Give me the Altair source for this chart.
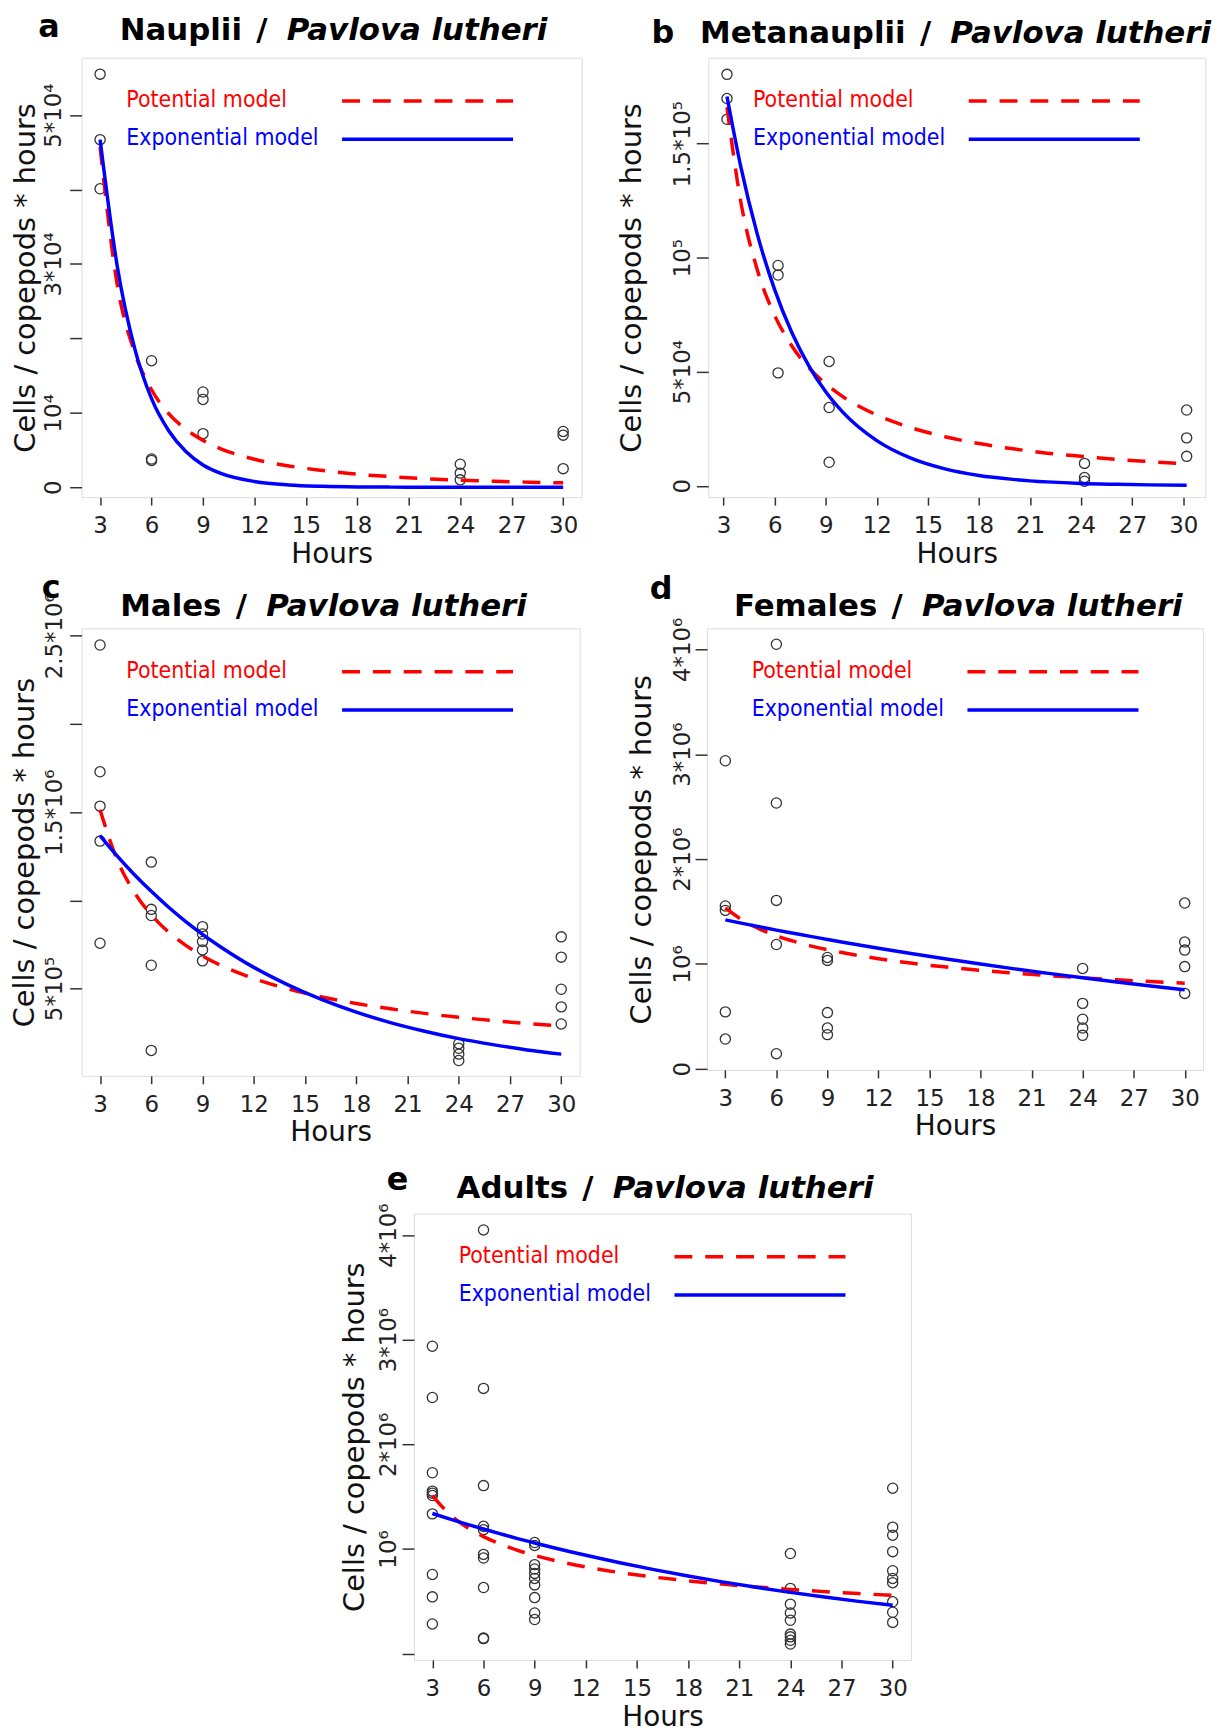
import altair as alt
import pandas as pd

FONT = "DejaVu Sans"
LEG_FONT = "DejaVu Sans Condensed, Liberation Sans Narrow, DejaVu Sans"

HOUR_TICKS = [3, 6, 9, 12, 15, 18, 21, 24, 27, 30]
CURVE_HOURS = [3, 4, 5, 6, 7, 8, 9, 10, 12, 14, 16, 18, 20, 22, 24, 26, 28, 30]
CURVE_HOURS_B = [3.2, 4, 5, 6, 7, 8, 9, 10, 12, 14, 16, 18, 20, 22, 24, 26, 28, 30.2]
LEGEND_LABELS = ["Potential model", "Exponential model"]
Y_TITLE = "Cells / copepods * hours"
X_TITLE = "Hours"
SPECIES = "Pavlova lutheri"

# ---- a: Nauplii
A_HOURS = [3, 3, 3, 6, 6, 6, 9, 9, 9, 24, 24, 24, 30, 30, 30]
A_VALUES = [55500, 46700, 40100, 17000, 3800, 3600, 12800, 11800, 7200,
            3100, 1900, 1000, 7500, 7000, 2500]
A_POT = [45700, 27200, 18200, 13100, 9900, 7800, 6300, 5200, 3770, 2860, 2250,
         1750, 1420, 1150, 950, 800, 680, 600]
A_EXP = [46700, 29700, 18800, 11900, 7600, 4800, 3000, 1900, 780, 310, 130,
         50, 20, 10, 0, 0, 0, 0]
A_YTICKS = [0, 10000, 20000, 30000, 40000, 50000]
A_YLABELS = ["0", "10⁴", "", "3*10⁴", "", "5*10⁴"]

# ---- b: Metanauplii
B_HOURS = [3.2, 3.2, 3.2, 6.2, 6.2, 6.2, 9.2, 9.2, 9.2, 24.2, 24.2, 24.2, 30.2, 30.2, 30.2]
B_VALUES = [180400, 169800, 160700, 96600, 92400, 49500, 54500, 34300, 10300,
            9800, 3600, 2000, 33200, 21000, 12900]
B_POT = [166000, 125000, 94200, 74700, 61400, 51800, 44700, 39100, 31000, 25500,
         21500, 18500, 16200, 14300, 12900, 11600, 10600, 9600]
B_EXP = [170700, 140300, 109800, 86000, 67300, 52700, 41200, 32300, 19800, 12100,
         7400, 4500, 2800, 1700, 1000, 640, 390, 230]
B_YTICKS = [0, 50000, 100000, 150000]
B_YLABELS = ["0", "5*10⁴", "10⁵", "1.5*10⁵"]

# ---- c: Males
C_HOURS = [3, 3, 3, 3, 3, 6, 6, 6, 6, 6, 9, 9, 9, 9, 9, 24, 24, 24, 24, 30, 30, 30, 30, 30]
C_VALUES = [2448000, 1729000, 1534000, 1336000, 757000,
            1217000, 949000, 914000, 632000, 149000,
            851000, 809000, 767000, 719000, 657000,
            187000, 161000, 128000, 92000,
            793000, 678000, 496000, 396000, 299000]
C_POT = [1514000, 1230000, 1047000, 918000, 821000, 746000, 685000, 635000, 557000,
         498000, 452000, 415000, 385000, 359000, 337000, 318000, 302000, 287000]
C_EXP = [1367000, 1252000, 1147000, 1051000, 962000, 881000, 807000, 740000, 620000,
         521000, 437000, 366000, 307000, 258000, 216000, 182000, 152000, 128000]
C_YTICKS = [500000, 1000000, 1500000, 2000000, 2500000]
C_YLABELS = ["5*10⁵", "", "1.5*10⁶", "", "2.5*10⁶"]

# ---- d: Females
D_HOURS = [3, 3, 3, 3, 3, 6, 6, 6, 6, 6, 9, 9, 9, 9, 9, 24, 24, 24, 24, 24, 30, 30, 30, 30, 30]
D_VALUES = [2938000, 1553000, 1511000, 543000, 284000,
            4049000, 2535000, 1606000, 1185000, 144000,
            1062000, 1034000, 536000, 389000, 326000,
            957000, 624000, 473000, 389000, 319000,
            1581000, 1209000, 1132000, 975000, 719000]
D_POT = [1535000, 1419000, 1335000, 1269000, 1217000, 1173000, 1136000, 1104000, 1050000,
         1006000, 970000, 939000, 913000, 889000, 868000, 849000, 832000, 817000]
D_EXP = [1420000, 1387000, 1355000, 1323000, 1293000, 1263000, 1234000, 1205000, 1150000,
         1097000, 1047000, 999000, 953000, 910000, 868000, 828000, 790000, 754000]
D_YTICKS = [0, 1000000, 2000000, 3000000, 4000000]
D_YLABELS = ["0", "10⁶", "2*10⁶", "3*10⁶", "4*10⁶"]

# ---- e: Adults (males + females)
E_HOURS = C_HOURS + D_HOURS
E_VALUES = C_VALUES + D_VALUES
E_POT = [1511000, 1334000, 1211000, 1119000, 1047000, 988000, 939000, 897000, 829000,
         775000, 732000, 696000, 665000, 638000, 614000, 593000, 574000, 558000]
E_EXP = [1340000, 1288000, 1238000, 1191000, 1145000, 1100000, 1058000, 1017000, 940000,
         869000, 803000, 742000, 686000, 634000, 586000, 541000, 500000, 463000]
E_YTICKS = [0, 1000000, 2000000, 3000000, 4000000]
E_YLABELS = ["", "10⁶", "2*10⁶", "3*10⁶", "4*10⁶"]


def label_expr(ticks, labels):
    expr = "''"
    for t, l in reversed(list(zip(ticks, labels))):
        expr = f"(datum.value == {t} ? '{l}' : {expr})"
    return expr


def one(text):
    return pd.DataFrame({"t": [text]})


def panel(letter, stage, px, py, cx, pot, expo, yticks, ylabels, w, h, xdom, ydom,
          lpad, tx, letter_pos, split, tb, frame):
    xs = alt.Scale(domain=xdom, nice=False, zero=False)
    ys = alt.Scale(domain=ydom, nice=False, zero=False)
    xaxis = alt.Axis(values=HOUR_TICKS, title=X_TITLE, grid=False, domain=False,
                     tickSize=8, tickColor="#333", tickWidth=1.5,
                     labelFont=FONT, labelFontSize=23, labelColor="#222",
                     labelPadding=21, labelBaseline="middle", labelFlush=False,
                     labelOverlap=False, titleFont=FONT, titleFontSize=28,
                     titleFontWeight="normal", titleColor="#111", titleX=w / 2,
                     titleY=57.5, titleBaseline="middle", titleAlign="center")
    yaxis = alt.Axis(values=yticks, labelExpr=label_expr(yticks, ylabels), grid=False,
                     domain=False, tickSize=12, tickColor="#333", tickWidth=1.5,
                     labelAngle=270, labelAlign="center", labelBaseline="middle",
                     labelPadding=lpad, labelFont=FONT, labelFontSize=23,
                     labelColor="#222", labelFlush=False, labelOverlap=False,
                     title=Y_TITLE, titleFont=FONT, titleFontSize=29,
                     titleFontWeight="normal", titleColor="#111", titleAngle=270,
                     titleX=tx, titleY=h / 2, titleAlign="center",
                     titleBaseline="middle")
    X = alt.X("h:Q", scale=xs, axis=xaxis)
    Y = alt.Y("v:Q", scale=ys, axis=yaxis)

    pts = alt.Chart(pd.DataFrame({"h": px, "v": py})).mark_point(
        shape="circle", filled=False, size=105, color="#333", strokeWidth=1.3,
        opacity=1).encode(x=X, y=Y)
    pot_line = alt.Chart(pd.DataFrame({"h": cx, "v": pot})).mark_line(
        color="#ff0000", strokeDash=[18, 13], strokeWidth=3.5,
        interpolate="monotone", clip=True).encode(x=X, y=Y)
    exp_line = alt.Chart(pd.DataFrame({"h": cx, "v": expo})).mark_line(
        color="#0000ff", strokeWidth=3.5, interpolate="monotone",
        clip=True).encode(x=X, y=Y)

    leg_pot_t = alt.Chart(one(LEGEND_LABELS[0])).mark_text(
        font=LEG_FONT, fontSize=23, color="#ff0000", align="left",
        baseline="middle").encode(x=alt.value(45), y=alt.value(43), text="t:N")
    leg_exp_t = alt.Chart(one(LEGEND_LABELS[1])).mark_text(
        font=LEG_FONT, fontSize=23, color="#0000ff", align="left",
        baseline="middle").encode(x=alt.value(45), y=alt.value(81), text="t:N")
    leg_pot_l = alt.Chart(one("")).mark_rule(
        color="#ff0000", strokeWidth=3.5, strokeDash=[18, 13]).encode(
        x=alt.value(262), x2=alt.value(434), y=alt.value(43.5))
    leg_exp_l = alt.Chart(one("")).mark_rule(
        color="#0000ff", strokeWidth=3.5).encode(
        x=alt.value(262), x2=alt.value(434), y=alt.value(82))

    let = alt.Chart(one(letter)).mark_text(
        font=FONT, fontSize=32, fontWeight="bold", color="black", align="center",
        baseline="alphabetic").encode(x=alt.value(letter_pos[0]),
                                      y=alt.value(letter_pos[1]), text="t:N")
    st = alt.Chart(one(stage)).mark_text(
        font=FONT, fontSize=31, fontWeight="bold", color="black", align="right",
        baseline="alphabetic").encode(x=alt.value(split - 45), y=alt.value(tb),
                                      text="t:N")
    sl = alt.Chart(one("/")).mark_text(
        font=FONT, fontSize=31, fontWeight="bold", color="black", align="center",
        baseline="alphabetic").encode(x=alt.value(split - 25), y=alt.value(tb),
                                      text="t:N")
    sp = alt.Chart(one(SPECIES)).mark_text(
        font=FONT, fontSize=31, fontWeight="bold", fontStyle="italic",
        color="black", align="left", baseline="alphabetic").encode(
        x=alt.value(split), y=alt.value(tb), text="t:N")

    # invisible frame fixing the panel's layout extent
    L, R, T, B = frame
    fr = alt.Chart(one("")).mark_rule(strokeOpacity=0, strokeWidth=1).encode(
        x=alt.value(-L), x2=alt.value(w + R), y=alt.value(-T), y2=alt.value(h + B))

    return alt.layer(pts, pot_line, exp_line, leg_pot_t, leg_exp_t, leg_pot_l,
                     leg_exp_l, let, st, sl, sp, fr).properties(width=w, height=h)


pa = panel("a", "Nauplii", A_HOURS, A_VALUES, CURVE_HOURS, A_POT, A_EXP, A_YTICKS,
           A_YLABELS, 503, 442, [1.92, 31.08], [-1330, 57710], 16, -56,
           (-32.7, -20.6), 206.3, -18, (73, 15, 49.8, 72))
pb = panel("b", "Metanauplii", B_HOURS, B_VALUES, CURVE_HOURS_B, B_POT, B_EXP,
           B_YTICKS, B_YLABELS, 500, 442, [2.1, 31.3], [-5000, 187700], 14, -77,
           (-45.7, -14.3), 243.5, -15, (100, 15, 49.8, 72))
pc = panel("c", "Males", C_HOURS, C_VALUES, CURVE_HOURS, C_POT, C_EXP, C_YTICKS,
           C_YLABELS, 501, 450, [1.92, 31.08], [5000, 2542000], 15, -57,
           (-30.6, -30.6), 185.7, -12.3, (73, 15, 57.7, 72))
pd_ = panel("d", "Females", D_HOURS, D_VALUES, CURVE_HOURS, D_POT, D_EXP, D_YTICKS,
            D_YLABELS, 499, 444, [1.92, 31.08], [-10000, 4200000], 12.5, -65.6,
            (-46, -30), 216.3, -12.5, (100, 15, 57.7, 72))
pe = panel("e", "Adults", E_HOURS, E_VALUES, CURVE_HOURS, E_POT, E_EXP, E_YTICKS,
           E_YLABELS, 500, 449, [1.92, 31.08], [-60000, 4206000], 14, -59.6,
           (-16.6, -24), 200, -16, (100, 15, 60, 72))

spacer = alt.Chart(one("")).mark_text().encode(
    text="t:N", x=alt.value(0), y=alt.value(0)).properties(
    width=222, height=10, view=alt.ViewBackground(stroke="transparent"))

row1 = alt.hconcat(pa, pb, spacing=10.3)
row2 = alt.hconcat(pc, pd_, spacing=11)
row3 = alt.hconcat(spacer, pe, spacing=10.3)
top = alt.vconcat(row1, row2, spacing=0)
chart = alt.vconcat(top, row3, spacing=4.5).properties(
    padding={"left": 0, "top": -6, "right": 0, "bottom": 0}
).configure_view(stroke="#444", strokeWidth=1.5).configure(font=FONT)

chart.save("out.html", embed_options={"renderer": "svg", "actions": False})
